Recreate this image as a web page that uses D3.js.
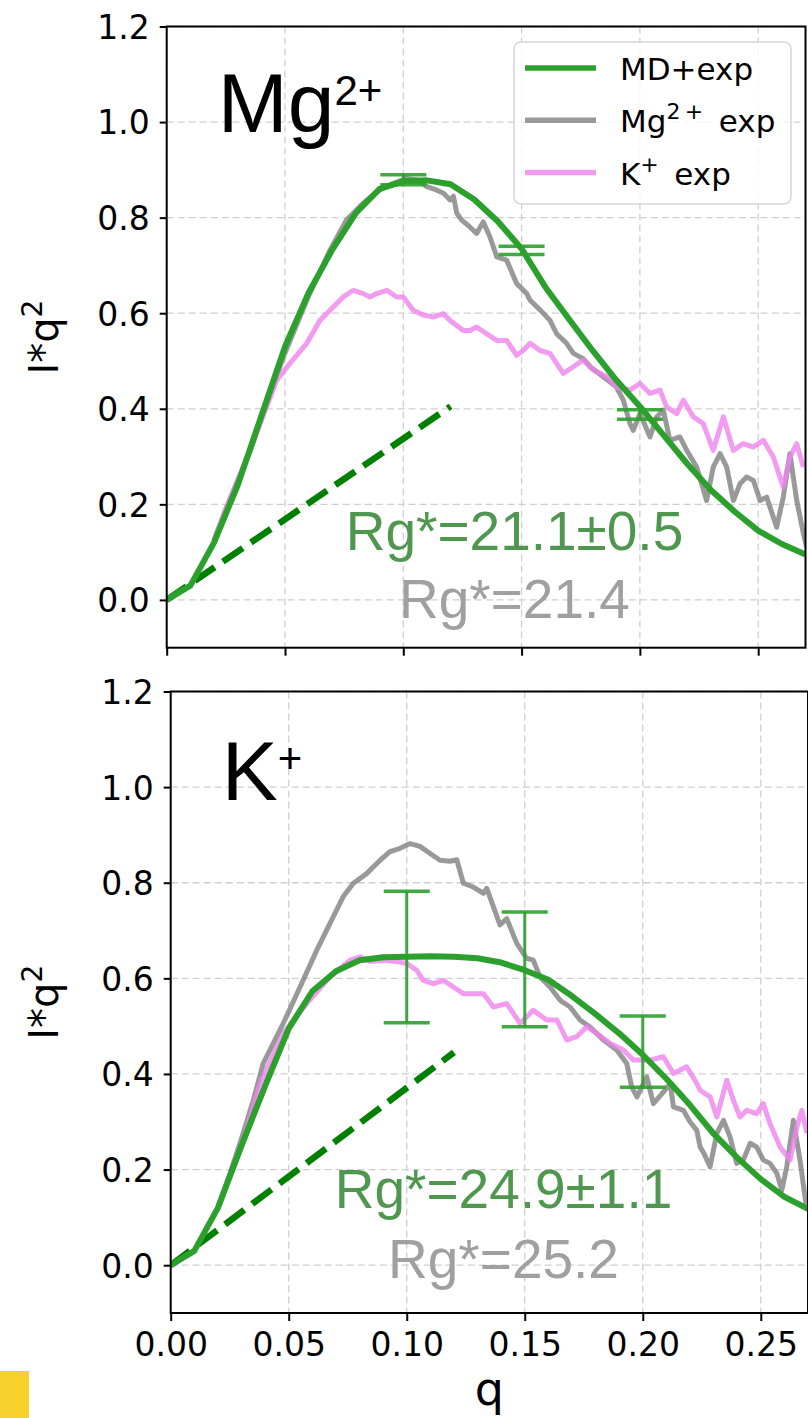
<!DOCTYPE html>
<html><head><meta charset="utf-8">
<script src="https://cdn.jsdelivr.net/npm/d3@7"></script>
<style>body{margin:0;background:#fff}svg{display:block}</style>
</head><body><svg id="c" width="808" height="1418"></svg>
<script>
// ---------------- data ----------------
const xTicks = [0, 0.05, 0.10, 0.15, 0.20, 0.25];
const yTicks = [0, 0.2, 0.4, 0.6, 0.8, 1.0, 1.2];
const legendLabels = ["MD+exp", "Mg2+ exp", "K+ exp"];

const mdQ   = [0,0.01,0.02,0.03,0.04,0.05,0.06,0.07,0.08,0.09,0.10,0.11,0.12,0.13,0.14,0.15,0.16,0.17,0.18,0.19,0.20,0.21,0.22,0.23,0.24,0.25,0.26,0.27];
const mdTop = [0,0.03,0.12,0.24,0.385,0.53,0.643,0.733,0.81,0.86,0.876,0.878,0.87,0.838,0.792,0.735,0.655,0.588,0.522,0.46,0.405,0.345,0.285,0.23,0.185,0.145,0.117,0.095];
const mdBot = [0,0.03,0.12,0.25,0.375,0.495,0.573,0.615,0.638,0.644,0.645,0.646,0.645,0.642,0.633,0.617,0.597,0.563,0.525,0.485,0.44,0.39,0.335,0.275,0.225,0.18,0.143,0.118];

const mgExpTop = [[0.020,0.125],[0.025,0.19],[0.030,0.25],[0.0352,0.31],[0.040,0.38],[0.0493,0.508],[0.0592,0.627],[0.069,0.732],[0.076,0.795],[0.083,0.83],[0.090,0.858],[0.0958,0.872],[0.1014,0.882],[0.1057,0.879],[0.110,0.865],[0.114,0.858],[0.117,0.851],[0.1198,0.837],[0.1212,0.845],[0.1226,0.809],[0.1247,0.795],[0.128,0.781],[0.131,0.767],[0.1338,0.791],[0.1366,0.76],[0.1395,0.718],[0.1437,0.711],[0.1479,0.662],[0.1522,0.641],[0.1536,0.627],[0.158,0.606],[0.162,0.585],[0.1648,0.557],[0.169,0.537],[0.1719,0.516],[0.176,0.505],[0.179,0.488],[0.1845,0.467],[0.190,0.446],[0.193,0.418],[0.1958,0.369],[0.1972,0.355],[0.200,0.39],[0.2043,0.341],[0.2071,0.383],[0.2099,0.397],[0.2127,0.334],[0.2169,0.341],[0.2198,0.313],[0.224,0.278],[0.2282,0.208],[0.231,0.278],[0.2339,0.306],[0.2367,0.278],[0.2395,0.208],[0.2423,0.243],[0.2451,0.257],[0.248,0.25],[0.2508,0.208],[0.2536,0.215],[0.2578,0.152],[0.2606,0.215],[0.2634,0.306],[0.2663,0.208],[0.2691,0.139],[0.2705,0.11]];

const kExpTop = [[0.020,0.125],[0.025,0.19],[0.030,0.25],[0.0352,0.313],[0.040,0.375],[0.0465,0.46],[0.0521,0.495],[0.0592,0.537],[0.0648,0.585],[0.0704,0.613],[0.0746,0.634],[0.0789,0.648],[0.0831,0.641],[0.0859,0.634],[0.0888,0.641],[0.093,0.648],[0.0972,0.634],[0.100,0.634],[0.1042,0.606],[0.1085,0.596],[0.1127,0.592],[0.1169,0.599],[0.1197,0.585],[0.1254,0.564],[0.1282,0.564],[0.131,0.571],[0.1352,0.557],[0.1395,0.543],[0.1437,0.543],[0.1479,0.512],[0.1507,0.522],[0.1536,0.537],[0.1578,0.522],[0.162,0.516],[0.1676,0.474],[0.1719,0.488],[0.176,0.502],[0.1803,0.481],[0.186,0.467],[0.190,0.446],[0.1958,0.439],[0.200,0.453],[0.2043,0.432],[0.2085,0.439],[0.2113,0.404],[0.2156,0.39],[0.2184,0.418],[0.2226,0.383],[0.2268,0.369],[0.231,0.313],[0.2353,0.383],[0.2395,0.313],[0.2437,0.327],[0.248,0.32],[0.2522,0.334],[0.2564,0.299],[0.2606,0.236],[0.2634,0.299],[0.2663,0.327],[0.2691,0.278]];

const mgExpBot = [[0.020,0.12],[0.025,0.19],[0.030,0.265],[0.035,0.345],[0.0392,0.422],[0.0477,0.506],[0.0548,0.582],[0.0619,0.659],[0.0689,0.729],[0.0731,0.771],[0.0774,0.799],[0.083,0.819],[0.0887,0.847],[0.0929,0.865],[0.0972,0.872],[0.1014,0.882],[0.1056,0.876],[0.1099,0.861],[0.1141,0.847],[0.1183,0.845],[0.1212,0.848],[0.124,0.799],[0.1282,0.791],[0.1325,0.778],[0.1339,0.788],[0.1367,0.75],[0.1395,0.712],[0.1424,0.725],[0.1466,0.673],[0.1508,0.642],[0.1536,0.638],[0.1565,0.603],[0.1607,0.582],[0.165,0.554],[0.1692,0.540],[0.1734,0.513],[0.1777,0.498],[0.1833,0.471],[0.189,0.45],[0.1932,0.422],[0.1953,0.373],[0.1975,0.352],[0.2003,0.38],[0.2017,0.394],[0.2045,0.338],[0.2087,0.362],[0.2116,0.38],[0.213,0.331],[0.2172,0.324],[0.22,0.3],[0.2229,0.282],[0.2243,0.247],[0.2257,0.236],[0.2285,0.206],[0.2314,0.276],[0.2342,0.303],[0.237,0.268],[0.2398,0.213],[0.2426,0.22],[0.2455,0.255],[0.2483,0.247],[0.2511,0.22],[0.2539,0.213],[0.2568,0.192],[0.2589,0.157],[0.261,0.206],[0.2638,0.303],[0.2666,0.22],[0.2695,0.115]];

const kExpBot = [[0.020,0.12],[0.025,0.185],[0.030,0.25],[0.0378,0.38],[0.0477,0.485],[0.0576,0.547],[0.0675,0.603],[0.076,0.638],[0.0802,0.645],[0.0844,0.635],[0.0901,0.638],[0.0958,0.635],[0.100,0.631],[0.1042,0.617],[0.107,0.596],[0.1113,0.589],[0.1155,0.596],[0.1197,0.582],[0.124,0.568],[0.1282,0.568],[0.1325,0.568],[0.1367,0.54],[0.1424,0.547],[0.148,0.506],[0.1536,0.533],[0.1593,0.513],[0.1636,0.513],[0.1678,0.471],[0.172,0.478],[0.1763,0.499],[0.1805,0.485],[0.1861,0.464],[0.1918,0.45],[0.196,0.429],[0.2031,0.429],[0.2087,0.436],[0.213,0.401],[0.2186,0.415],[0.2229,0.38],[0.2243,0.366],[0.2285,0.352],[0.2314,0.31],[0.2356,0.387],[0.2384,0.345],[0.2412,0.31],[0.2441,0.324],[0.2483,0.317],[0.2511,0.338],[0.2539,0.296],[0.2582,0.247],[0.2624,0.22],[0.2653,0.289],[0.2674,0.324],[0.2695,0.276]];

const errQ = [0.10, 0.15, 0.20];
const errTopLo = [0.869, 0.723, 0.378];
const errTopHi = [0.890, 0.740, 0.398];
const errBotLo = [0.507, 0.4985, 0.372];
const errBotHi = [0.782, 0.739, 0.521];

const guinierQ = [0, 0.12];
const guinierTop = [0, 0.405];
const guinierBot = [0, 0.445];

const rgTop = ["Rg*=21.1±0.5", "Rg*=21.4"];
const rgBot = ["Rg*=24.9±1.1", "Rg*=25.2"];

// ---------------- drawing ----------------
const svg = d3.select("#c");
const C = {md:"#2ca02c", mg:"#808080", k:"#ee82ee", guin:"#008000", rgG:"#4f974f", rgGray:"#a0a0a0"};
const tickFont = "'DejaVu Sans', sans-serif";
const txtFont = "'Liberation Sans', Arial, sans-serif";

function panel(id, x, y, md, mg, kk, eLo, eHi, guin, rg, rgPos, ion, showXLabels) {
  const g = svg.append("g");
  const [x0, x1] = x.range(), [y0, y1] = y.range(); // y0 bottom, y1 top
  g.append("clipPath").attr("id", id).append("rect")
    .attr("x", x0).attr("y", y1).attr("width", x1 - x0).attr("height", y0 - y1);

  // grid
  const grid = g.append("g").attr("stroke", "#cfcfcf").attr("stroke-width", 1.3).attr("stroke-dasharray", "7,4");
  xTicks.forEach(t => grid.append("line").attr("x1", x(t)).attr("x2", x(t)).attr("y1", y1).attr("y2", y0));
  yTicks.forEach(t => grid.append("line").attr("x1", x0).attr("x2", x1).attr("y1", y(t)).attr("y2", y(t)));

  const data = g.append("g").attr("clip-path", `url(#${id})`);
  const line = d3.line().x(d => x(d[0])).y(d => y(d[1]));

  // guinier dashed
  data.append("path").datum(guinierQ.map((q, i) => [q, guin[i]])).attr("d", line)
    .attr("fill", "none").attr("stroke", C.guin).attr("stroke-width", 6.5).attr("stroke-dasharray", "24,10");

  // experimental
  data.append("path").datum(mg).attr("d", line).attr("fill", "none")
    .attr("stroke", C.mg).attr("stroke-opacity", 0.8).attr("stroke-width", 5).attr("stroke-linejoin", "round");
  data.append("path").datum(kk).attr("d", line).attr("fill", "none")
    .attr("stroke", C.k).attr("stroke-opacity", 0.8).attr("stroke-width", 5).attr("stroke-linejoin", "round");

  // MD curve
  data.append("path").datum(mdQ.map((q, i) => [q, md[i]])).attr("d", line).attr("fill", "none")
    .attr("stroke", C.md).attr("stroke-width", 6).attr("stroke-linejoin", "round");

  // error bars
  const eb = data.append("g").attr("stroke", C.md).attr("stroke-opacity", 0.9);
  errQ.forEach((q, i) => {
    eb.append("line").attr("x1", x(q)).attr("x2", x(q)).attr("y1", y(eLo[i])).attr("y2", y(eHi[i])).attr("stroke-width", 3);
    [eLo[i], eHi[i]].forEach(v => eb.append("line").attr("x1", x(q) - 23).attr("x2", x(q) + 23)
      .attr("y1", y(v)).attr("y2", y(v)).attr("stroke-width", 3.5));
  });

  // axes
  const ya = g.append("g").attr("transform", `translate(${x0},0)`)
    .call(d3.axisLeft(y).tickValues(yTicks).tickFormat(d3.format(".1f")).tickSize(7).tickPadding(10));
  const xa = g.append("g").attr("transform", `translate(0,${y0})`)
    .call(d3.axisBottom(x).tickValues(xTicks).tickFormat(showXLabels ? d3.format(".2f") : "").tickSize(8).tickPadding(9));
  [ya, xa].forEach(a => {
    a.select(".domain").remove();
    a.selectAll(".tick line").attr("stroke", "#000").attr("stroke-width", 2);
    a.selectAll(".tick text").attr("fill", "#000").style("font-family", tickFont).style("font-size", "33px");
  });
  ya.selectAll(".tick text").attr("dy", "0.36em");
  xa.selectAll(".tick text").attr("dy", "0.78em");

  // spines
  g.append("rect").attr("x", x0).attr("y", y1).attr("width", x1 - x0).attr("height", y0 - y1)
    .attr("fill", "none").attr("stroke", "#000").attr("stroke-width", 2);

  // y label
  const yl = g.append("text").attr("transform", `translate(58,${(y0 + y1) / 2}) rotate(-90)`)
    .attr("text-anchor", "middle").style("font-family", tickFont).style("font-size", "40px").attr("fill", "#000");
  yl.append("tspan").text("I*q");
  yl.append("tspan").attr("dy", -16).style("font-size", "28px").text("2");

  // ion label
  const il = g.append("text").attr("x", x0 + 51).attr("y", ion.y).style("font-family", txtFont).attr("fill", "#000");
  il.append("tspan").style("font-size", "84px").text(ion.base);
  il.append("tspan").attr("dy", -27).style("font-size", "42px").text(ion.sup);

  // Rg texts
  g.append("text").attr("x", x(rgPos[0])).attr("y", rgPos[1]).attr("text-anchor", "middle")
    .style("font-family", txtFont).style("font-size", "55px").attr("fill", C.rgG).text(rg[0]);
  g.append("text").attr("x", x(rgPos[0])).attr("y", rgPos[2]).attr("text-anchor", "middle")
    .style("font-family", txtFont).style("font-size", "55px").attr("fill", C.rgGray).text(rg[1]);
  return g;
}

const xTop = d3.scaleLinear([0, 0.27], [166.7, 805.5]);
const yTop = d3.scaleLinear([-0.1, 1.2], [647.7, 26.5]);
const xBot = d3.scaleLinear([0, 0.27], [170.7, 808]);
const yBot = d3.scaleLinear([-0.1, 1.2], [1313, 691.5]);

panel("clipTop", xTop, yTop, mdTop, mgExpTop, kExpTop, errTopLo, errTopHi, guinierTop, rgTop,
  [0.147, 550, 618], {base: "Mg", sup: "2+", y: 131.7}, false);
panel("clipBot", xBot, yBot, mdBot, mgExpBot, kExpBot, errBotLo, errBotHi, guinierBot, rgBot,
  [0.141, 1208, 1278], {base: "K", sup: "+", y: 800}, true);

// legend (top panel)
const lg = svg.append("g");
lg.append("rect").attr("x", 514).attr("y", 42).attr("width", 277).attr("height", 162).attr("rx", 7)
  .attr("fill", "#fff").attr("fill-opacity", 0.8).attr("stroke", "#d6d6d6").attr("stroke-width", 1.5);
const legColors = [[C.md, 1], [C.mg, 0.8], [C.k, 0.8]];
legendLabels.forEach((lab, i) => {
  const yy = 68 + i * 52.3;
  lg.append("line").attr("x1", 525).attr("x2", 596).attr("y1", yy).attr("y2", yy)
    .attr("stroke", legColors[i][0]).attr("stroke-opacity", legColors[i][1]).attr("stroke-width", 5.5);
  const t = lg.append("text").attr("x", 620).attr("y", yy + 12).style("font-family", tickFont)
    .style("font-size", "31px").attr("fill", "#000");
  if (i === 0) t.text(lab);
  else if (i === 1) {
    t.append("tspan").text("Mg");
    t.append("tspan").attr("dy", -13).style("font-size", "22px").text("2\u2009+");
    t.append("tspan").attr("dy", 13).text("\u2002exp");
  } else {
    t.append("tspan").text("K");
    t.append("tspan").attr("dy", -13).style("font-size", "22px").text("+");
    t.append("tspan").attr("dy", 13).text("\u2002exp");
  }
});

// x label
svg.append("text").attr("x", (xBot.range()[0] + xBot.range()[1]) / 2).attr("y", 1405).attr("text-anchor", "middle")
  .style("font-family", tickFont).style("font-size", "46px").attr("fill", "#000").text("q");

// yellow corner mark
svg.append("rect").attr("x", 0).attr("y", 1371).attr("width", 29).attr("height", 47).attr("fill", "#f6d12b");
</script></body></html>
